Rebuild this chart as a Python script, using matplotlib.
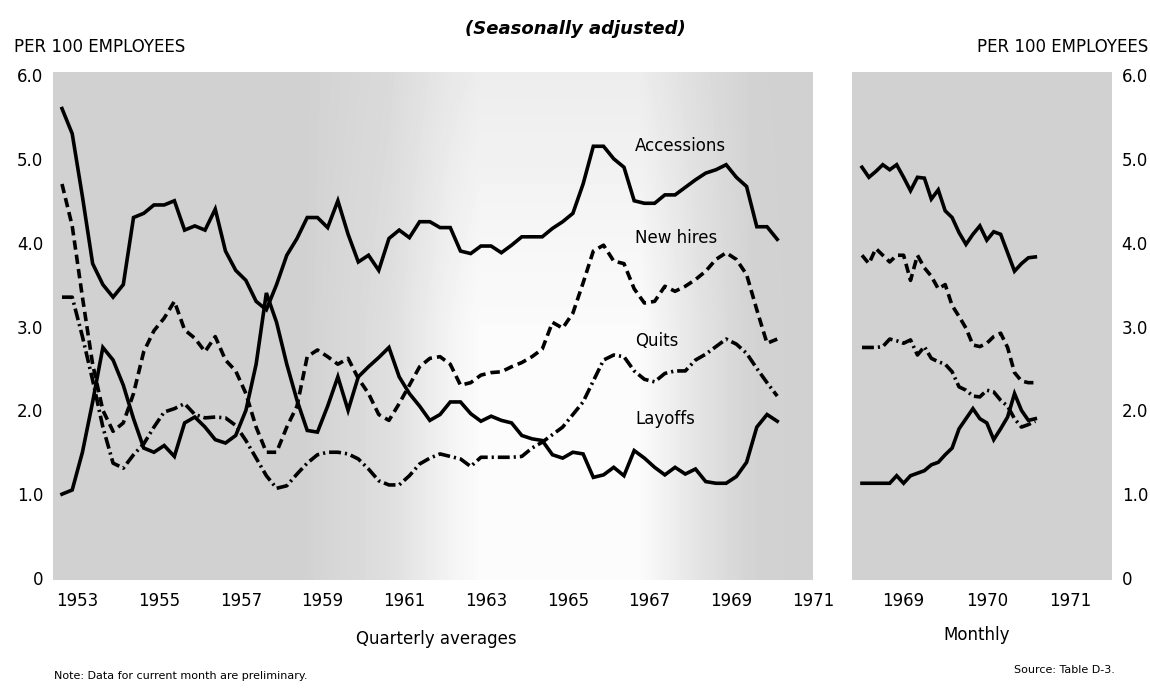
import numpy as np
import matplotlib
matplotlib.use("Agg")
import matplotlib.pyplot as plt

# quarterly averages, 1953 Q1 .. 1970 Q3 (per 100 employees)
accessions_q = [5.6, 5.3, 4.55, 3.75, 3.5, 3.35, 3.5, 4.3, 4.35, 4.45,
                4.45, 4.5, 4.15, 4.2, 4.15, 4.4, 3.9, 3.67, 3.55, 3.3,
                3.2, 3.5, 3.85, 4.05, 4.3, 4.3, 4.18, 4.5, 4.1, 3.77,
                3.85, 3.67, 4.05, 4.15, 4.06, 4.25, 4.25, 4.18, 4.18, 3.9,
                3.87, 3.96, 3.96, 3.88, 3.97, 4.07, 4.07, 4.07, 4.17, 4.25,
                4.35, 4.7, 5.15, 5.15, 5.0, 4.9, 4.5, 4.47, 4.47, 4.57,
                4.57, 4.66, 4.75, 4.83, 4.87, 4.93, 4.78, 4.67, 4.19, 4.19,
                4.04]
new_hires_q = [4.7, 4.2, 3.35, 2.55, 2.0, 1.75, 1.85, 2.2, 2.7, 2.95,
               3.1, 3.3, 2.96, 2.86, 2.7, 2.88, 2.6, 2.47, 2.2, 1.8,
               1.5, 1.5, 1.8, 2.05, 2.64, 2.72, 2.64, 2.55, 2.62, 2.38,
               2.2, 1.95, 1.88, 2.08, 2.3, 2.52, 2.62, 2.64, 2.55, 2.3,
               2.33, 2.42, 2.45, 2.46, 2.52, 2.57, 2.64, 2.73, 3.05, 2.98,
               3.16, 3.52, 3.9, 3.97, 3.78, 3.75, 3.45, 3.28, 3.3, 3.48,
               3.42, 3.48, 3.56, 3.66, 3.8, 3.88, 3.8, 3.62, 3.2, 2.8,
               2.85]
quits_q = [3.35, 3.35, 2.88, 2.36, 1.8, 1.37, 1.31, 1.47, 1.6, 1.8,
           1.98, 2.02, 2.08, 1.95, 1.91, 1.92, 1.91, 1.82, 1.64, 1.43,
           1.22, 1.07, 1.1, 1.24, 1.37, 1.47, 1.5, 1.5, 1.48, 1.42,
           1.3, 1.16, 1.11, 1.11, 1.22, 1.36, 1.43, 1.48, 1.45, 1.42,
           1.33, 1.44, 1.44, 1.44, 1.44, 1.45, 1.55, 1.62, 1.71, 1.8,
           1.95, 2.1, 2.35, 2.6, 2.66, 2.64, 2.47, 2.37, 2.34, 2.44,
           2.47, 2.47, 2.6, 2.67, 2.76, 2.85, 2.79, 2.68, 2.5, 2.33,
           2.17]
layoffs_q = [1.0, 1.05, 1.5, 2.1, 2.75, 2.6, 2.3, 1.9, 1.55, 1.5,
             1.58, 1.45, 1.85, 1.92, 1.8, 1.65, 1.61, 1.7, 2.0, 2.55,
             3.4, 3.05, 2.55, 2.12, 1.76, 1.74, 2.05, 2.4, 2.0, 2.4,
             2.52, 2.63, 2.75, 2.4, 2.2, 2.05, 1.88, 1.95, 2.1, 2.1,
             1.96, 1.87, 1.93, 1.88, 1.85, 1.7, 1.66, 1.64, 1.47, 1.43,
             1.5, 1.48, 1.2, 1.23, 1.32, 1.22, 1.52, 1.43, 1.32, 1.23,
             1.32, 1.24, 1.3, 1.15, 1.13, 1.13, 1.21, 1.38, 1.8, 1.95,
             1.87]

# monthly, Jul 1968 .. Aug 1970
accessions_m = [4.9, 4.78, 4.85, 4.93, 4.87, 4.93, 4.78, 4.62, 4.78, 4.77,
                4.52, 4.63, 4.38, 4.3, 4.12, 3.98, 4.1, 4.2, 4.03, 4.13,
                4.1, 3.88, 3.66, 3.75, 3.82, 3.83]
new_hires_m = [3.85, 3.75, 3.93, 3.85, 3.77, 3.85, 3.85, 3.55, 3.85, 3.7,
               3.6, 3.45, 3.5, 3.25, 3.12, 2.98, 2.78, 2.76, 2.8, 2.88,
               2.92, 2.75, 2.45, 2.35, 2.33, 2.33]
quits_m = [2.75, 2.75, 2.75, 2.76, 2.85, 2.83, 2.8, 2.84, 2.66, 2.76,
           2.62, 2.58, 2.55, 2.46, 2.28, 2.24, 2.17, 2.16, 2.24, 2.22,
           2.12, 2.05, 1.9, 1.8, 1.83, 1.87]
layoffs_m = [1.13, 1.13, 1.13, 1.13, 1.13, 1.22, 1.13, 1.22, 1.25, 1.28,
             1.35, 1.38, 1.47, 1.55, 1.78, 1.9, 2.02, 1.9, 1.85, 1.65,
             1.78, 1.92, 2.2, 2.0, 1.88, 1.9]

series_names = ["Accessions", "New hires", "Quits", "Layoffs"]
year_ticks_q = [1953, 1955, 1957, 1959, 1961, 1963, 1965, 1967, 1969, 1971]
year_ticks_m = [1969, 1970, 1971]
y_ticks = [0, 1, 2, 3, 4, 5, 6]
y_labels = ["0", "1.0", "2.0", "3.0", "4.0", "5.0", "6.0"]

# quarters plotted at mid-quarter, months at start of month
x_q = 1953.125 + 0.25 * np.arange(len(accessions_q))
x_m = 1968.5 + np.arange(len(accessions_m)) / 12.0

W, H = 1150, 688
LW = 2.6
line_styles = {
    "Accessions": "-",
    "New hires": (0, (2.6, 1.4)),
    "Quits": (0, (3.3, 1.1, 0.6, 1.1)),
    "Layoffs": "-",
}

fig = plt.figure(figsize=(W / 100, H / 100), dpi=100)
fig.patch.set_facecolor("white")

ylim = (-0.024, 6.036)
ax1 = fig.add_axes([53 / W, 1 - 580 / H, 760 / W, 508 / H])
ax2 = fig.add_axes([852 / W, 1 - 580 / H, 260 / W, 508 / H])
ax1.set_xlim(1952.905, 1971.5)
ax2.set_xlim(1968.38, 1971.505)


def shade(ax, px0, px1, dens_x):
    # halftone screen imitated with a smooth grey
    px = np.arange(px0, px1)
    py = np.arange(72, 581)
    dx = np.interp(px, dens_x[0], dens_x[1])
    top = np.interp(py, [72, 330], [1.0, 0.0])
    d = dx[None, :] + (1 - dx[None, :]) * 0.35 * top[:, None]
    img = 1 - 0.18 * d
    ax.imshow(img, extent=(*ax.get_xlim(), *ylim), aspect="auto",
              cmap="gray", vmin=0, vmax=1, zorder=0, interpolation="bilinear")


shade(ax1, 53, 813, ([53, 300, 390, 450, 480, 640, 700, 750, 813],
                     [1.0, 1.0, 0.7, 0.25, 0.08, 0.08, 0.6, 0.95, 1.0]))
shade(ax2, 852, 1112, ([852, 1112], [1.0, 1.0]))

for ax, xs, data in [
    (ax1, x_q, [accessions_q, new_hires_q, quits_q, layoffs_q]),
    (ax2, x_m, [accessions_m, new_hires_m, quits_m, layoffs_m]),
]:
    for name, vals in zip(series_names, data):
        ax.plot(xs, vals, color="black", lw=LW, linestyle=line_styles[name],
                solid_joinstyle="miter", zorder=3)
    ax.set_ylim(*ylim)
    ax.set_yticks(y_ticks)
    ax.set_yticklabels(y_labels)
    for s in ax.spines.values():
        s.set_visible(False)
    ax.tick_params(length=0, labelsize=12, colors="black")

ax1.set_xticks([y + 0.5 for y in year_ticks_q])
ax1.set_xticklabels([str(y) for y in year_ticks_q])
ax1.tick_params(axis="x", pad=9)
ax1.tick_params(axis="y", pad=7)

ax2.set_xticks(year_ticks_m)
ax2.set_xticklabels([str(y) for y in year_ticks_m])
ax2.yaxis.tick_right()
ax2.tick_params(axis="x", pad=9)
ax2.tick_params(axis="y", pad=7)

# series labels
label_y = {"Accessions": 5.15, "New hires": 4.06, "Quits": 2.83, "Layoffs": 1.9}
for name in series_names:
    ax1.text(1967.15, label_y[name], name, fontsize=12, ha="left", va="center", zorder=4)


def ftext(px, py, s, **kw):
    fig.text(px / W, 1 - py / H, s, **kw)


ftext(575, 29, "(Seasonally adjusted)", fontsize=13, fontweight="bold",
      fontstyle="italic", ha="center", va="center")
ftext(14, 47, "PER 100 EMPLOYEES", fontsize=12, ha="left", va="center")
ftext(1148, 47, "PER 100 EMPLOYEES", fontsize=12, ha="right", va="center")
ftext(436, 639, "Quarterly averages", fontsize=12, ha="center", va="center")
ftext(977, 635, "Monthly", fontsize=12, ha="center", va="center")
ftext(54, 676, "Note: Data for current month are preliminary.", fontsize=8,
      ha="left", va="center")
ftext(1115, 670, "Source: Table D-3.", fontsize=8, ha="right", va="center")

fig.savefig("out.png", dpi=100)
